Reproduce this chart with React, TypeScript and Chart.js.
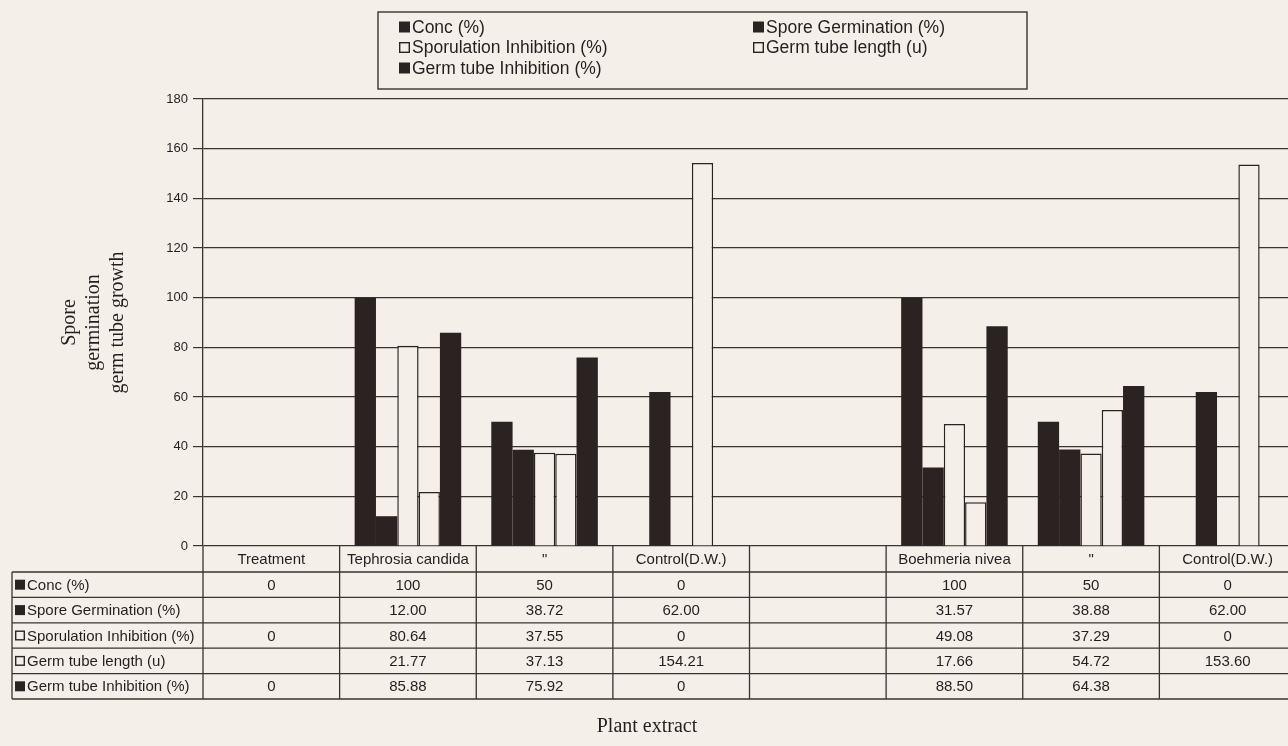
import React, { useEffect, useRef } from "react";
import { Chart, registerables } from "chart.js";

Chart.register(...registerables);

// ---------- data ----------
const categories = [
  "Treatment",
  "Tephrosia candida",
  '"',
  "Control(D.W.)",
  "",
  "Boehmeria nivea",
  '"',
  "Control(D.W.)",
];
const seriesNames = [
  "Conc (%)",
  "Spore Germination (%)",
  "Sporulation Inhibition (%)",
  "Germ tube length (u)",
  "Germ tube Inhibition (%)",
];
const conc: (number | null)[] = [0, 100, 50, 0, null, 100, 50, 0];
const sporeGermination: (number | null)[] = [null, 12.0, 38.72, 62.0, null, 31.57, 38.88, 62.0];
const sporulationInhibition: (number | null)[] = [0, 80.64, 37.55, 0, null, 49.08, 37.29, 0];
const germTubeLength: (number | null)[] = [null, 21.77, 37.13, 154.21, null, 17.66, 54.72, 153.6];
const germTubeInhibition: (number | null)[] = [0, 85.88, 75.92, 0, null, 88.5, 64.38, null];
const yMin = 0;
const yMax = 180;
const yStep = 20;
const yTitle = ["Spore", "germination", "germ tube growth"];
const xTitle = "Plant extract";

// ---------- style ----------
const BG = "#f5efea";
const DARK = "#2b2322";
const LINE = "#3a3331";
const TEXT = "#231f1f";
const SANS = "'Liberation Sans', Arial, sans-serif";
const SERIF = "'Liberation Serif', 'Times New Roman', serif";

const seriesValues = [conc, sporeGermination, sporulationInhibition, germTubeLength, germTubeInhibition];
const seriesFilled = [true, true, false, false, true];
const seriesDecimals = [0, 2, 2, 2, 2];

function fmt(v: number | null, dec: number): string {
  if (v === null || v === undefined) return "";
  if (v === 0) return "0";
  return dec === 0 ? String(v) : v.toFixed(dec);
}

function drawMarker(ctx: CanvasRenderingContext2D, x: number, y: number, s: number, filled: boolean) {
  if (filled) {
    ctx.fillStyle = DARK;
    ctx.fillRect(x, y, s, s);
  } else {
    ctx.fillStyle = BG;
    ctx.fillRect(x, y, s, s);
    ctx.strokeStyle = DARK;
    ctx.lineWidth = 1.4;
    ctx.strokeRect(x + 0.7, y + 0.7, s - 1.4, s - 1.4);
  }
}

const legendPlugin = {
  id: "customLegend",
  afterDraw(chart: any) {
    const ctx: CanvasRenderingContext2D = chart.ctx;
    ctx.save();
    const bx = 378, by = 12, bw = 649, bh = 77;
    ctx.strokeStyle = LINE;
    ctx.lineWidth = 1.4;
    ctx.strokeRect(bx, by, bw, bh);
    const colX = [399, 753];
    const rowY = [27, 47.5, 68];
    ctx.font = `17.5px ${SANS}`;
    ctx.textBaseline = "middle";
    ctx.textAlign = "left";
    chart.data.datasets.forEach((ds: any, i: number) => {
      const cx = colX[i % 2];
      const cy = rowY[Math.floor(i / 2)];
      drawMarker(ctx, cx, cy - 5.5, 11, seriesFilled[i]);
      ctx.fillStyle = TEXT;
      ctx.fillText(ds.label, cx + 13, cy + 1);
    });
    ctx.restore();
  },
};

const tablePlugin = {
  id: "dataTable",
  afterDraw(chart: any) {
    const ctx: CanvasRenderingContext2D = chart.ctx;
    const area = chart.chartArea;
    const xs = chart.scales.x;
    const n = categories.length;
    const half = (xs.getPixelForValue(1) - xs.getPixelForValue(0)) / 2;
    const headerTop = area.bottom;
    const headerH = 26;
    const rowH = 25.4;
    const labelLeft = 12;
    const rowsTop = headerTop + headerH;
    const bottom = rowsTop + seriesNames.length * rowH;
    const right = chart.width;
    ctx.save();
    ctx.strokeStyle = LINE;
    ctx.lineWidth = 1.3;
    ctx.beginPath();
    for (let r = 0; r <= seriesNames.length; r++) {
      const y = rowsTop + r * rowH;
      ctx.moveTo(labelLeft, y);
      ctx.lineTo(right, y);
    }
    ctx.moveTo(labelLeft, rowsTop);
    ctx.lineTo(labelLeft, bottom);
    for (let i = 0; i <= n; i++) {
      const bx = i < n ? xs.getPixelForValue(i) - half : xs.getPixelForValue(n - 1) + half;
      ctx.moveTo(bx, headerTop);
      ctx.lineTo(bx, bottom);
    }
    ctx.stroke();

    ctx.fillStyle = TEXT;
    ctx.font = `15px ${SANS}`;
    ctx.textBaseline = "middle";
    ctx.textAlign = "center";
    categories.forEach((c, i) => {
      ctx.fillText(c, xs.getPixelForValue(i), headerTop + headerH / 2 + 1);
    });
    seriesNames.forEach((name, r) => {
      const cy = rowsTop + r * rowH + rowH / 2;
      drawMarker(ctx, labelLeft + 3, cy - 5, 10, seriesFilled[r]);
      ctx.fillStyle = TEXT;
      ctx.textAlign = "left";
      ctx.fillText(name, labelLeft + 15, cy + 1);
      ctx.textAlign = "center";
      seriesValues[r].forEach((v, i) => {
        const s = fmt(v, seriesDecimals[r]);
        if (s) ctx.fillText(s, xs.getPixelForValue(i), cy + 1);
      });
    });

    ctx.font = `20px ${SERIF}`;
    ctx.fillText(xTitle, 647, 727);
    ctx.restore();
  },
};

export default function App() {
  const canvasRef = useRef<HTMLCanvasElement | null>(null);

  useEffect(() => {
    if (!canvasRef.current) return;
    const datasets = seriesNames.map((name, i) => ({
      label: name,
      data: seriesValues[i],
      backgroundColor: seriesFilled[i] ? DARK : BG,
      borderColor: DARK,
      borderWidth: seriesFilled[i] ? 0 : 1.5,
      categoryPercentage: 0.78,
      barPercentage: 1.0,
    }));
    const chart = new Chart(canvasRef.current, {
      type: "bar",
      data: { labels: categories, datasets },
      plugins: [legendPlugin, tablePlugin],
      options: {
        animation: false,
        responsive: true,
        maintainAspectRatio: false,
        layout: { padding: { top: 99, bottom: 200, left: 0, right: 4 } },
        plugins: {
          legend: { display: false },
          tooltip: { enabled: false },
        },
        scales: {
          x: { display: false },
          y: {
            min: yMin,
            max: yMax,
            afterFit: (scale: any) => {
              scale.width = 203;
            },
            ticks: {
              stepSize: yStep,
              color: TEXT,
              font: { family: SANS, size: 13 },
              padding: 5,
            },
            grid: {
              color: LINE,
              lineWidth: 1.2,
              tickLength: 10,
              drawTicks: true,
            },
            border: { display: true, color: LINE, width: 1.3 },
            title: {
              display: true,
              text: yTitle,
              color: TEXT,
              font: { family: SERIF, size: 20, lineHeight: 1.2 },
              padding: { top: 58, bottom: 0 },
            },
          },
        },
      },
    } as any);
    return () => chart.destroy();
  }, []);

  return (
    <div
      style={{
        position: "fixed",
        left: 0,
        top: 0,
        width: 1288,
        height: 746,
        overflow: "hidden",
        background: BG,
      }}
    >
      <div style={{ position: "relative", width: 1300, height: 746 }}>
        <canvas ref={canvasRef} />
      </div>
    </div>
  );
}
